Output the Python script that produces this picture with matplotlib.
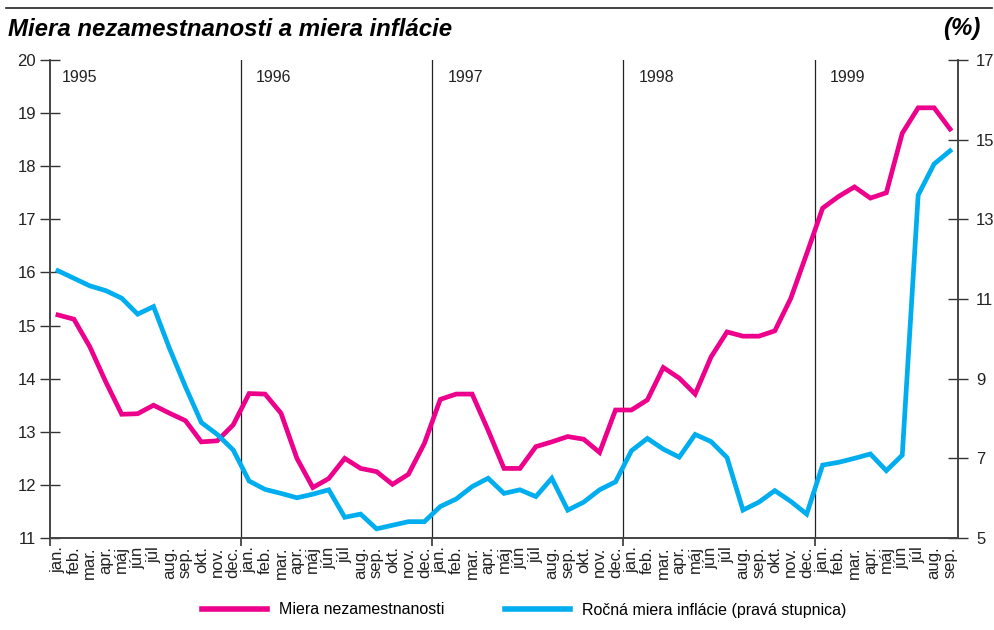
import matplotlib
matplotlib.use("Agg")
import matplotlib.pyplot as plt
from matplotlib.lines import Line2D

plt.rcParams['font.family'] = ['Liberation Sans', 'DejaVu Sans']

months = ["jan.", "feb.", "mar.", "apr.", "máj", "jún", "júl", "aug.", "sep.", "okt.", "nov.", "dec."]
years = ["1995", "1996", "1997", "1998", "1999"]
month_labels = months * 4 + months[:9]

unemployment = [15.20, 15.12, 14.60, 13.94, 13.33, 13.34, 13.50, 13.35, 13.21, 12.81, 12.83, 13.13,
                13.72, 13.71, 13.35, 12.50, 11.95, 12.12, 12.50, 12.31, 12.25, 12.01, 12.20, 12.78,
                13.61, 13.71, 13.71, 13.03, 12.31, 12.31, 12.72, 12.81, 12.91, 12.86, 12.61, 13.41,
                13.41, 13.60, 14.21, 14.01, 13.71, 14.41, 14.88, 14.80, 14.80, 14.90, 15.51, 16.35,
                17.21, 17.43, 17.61, 17.40, 17.50, 18.62, 19.10, 19.10, 18.70]
inflation = [11.71, 11.52, 11.33, 11.21, 11.02, 10.62, 10.81, 9.76, 8.80, 7.90, 7.60, 7.21,
             6.43, 6.22, 6.12, 6.01, 6.10, 6.21, 5.52, 5.60, 5.23, 5.32, 5.41, 5.41,
             5.79, 5.98, 6.29, 6.50, 6.12, 6.21, 6.04, 6.50, 5.70, 5.90, 6.21, 6.41,
             7.19, 7.50, 7.23, 7.03, 7.60, 7.42, 7.02, 5.70, 5.90, 6.19, 5.92, 5.60,
             6.83, 6.90, 7.00, 7.11, 6.69, 7.08, 13.61, 14.39, 14.72]

left_ticks = list(range(11, 21))
right_ticks = [5, 7, 9, 11, 13, 15, 17]

PINK = "#EC008C"
BLUE = "#00AEEF"
DARK = "#222222"

fig = plt.figure(figsize=(9.94, 6.30), dpi=100)
ax = fig.add_axes([50/994, 92/630, 908/994, 478/630])
ax2 = ax.twinx()

x = list(range(len(unemployment)))
ax.plot(x, unemployment, color=PINK, lw=3.4, solid_joinstyle='miter', zorder=3)
ax2.plot(x, inflation, color=BLUE, lw=3.4, solid_joinstyle='miter', zorder=3)

ax.set_xlim(-0.5, len(x) - 0.5)
ax.set_ylim(11, 20)
ax2.set_ylim(5, 17)
ax.set_yticks(left_ticks)
ax2.set_yticks(right_ticks)

# year separator lines and labels
for k, yr in enumerate(years):
    b = -0.5 + 12 * k
    if k > 0:
        ax.axvline(b, color=DARK, lw=0.9, zorder=1)
    off = 0.75 if k == 0 else 0.94
    ax.text(b + off, 19.67, yr, fontsize=11.5, ha='left', va='center', color=DARK)

ax.set_xticks(x)
ax.set_xticklabels(month_labels, rotation=90, fontsize=12, va='top', ha='center')
ax.tick_params(axis='x', length=0, pad=6, colors=DARK)
ax.set_xticks([-0.5 + 12 * k for k in range(5)], minor=True)
ax.tick_params(axis='x', which='minor', length=6, width=1.2, direction='out', color="#333333")

ax.tick_params(axis='y', direction='inout', length=14, width=1.0, labelsize=12, pad=3,
               color="#333333", labelcolor=DARK)
ax2.tick_params(axis='y', direction='inout', length=14, width=1.0, labelsize=12, pad=6,
                color="#333333", labelcolor=DARK)

for a in (ax, ax2):
    a.spines['top'].set_visible(False)
    for s in ('left', 'right', 'bottom'):
        a.spines[s].set_color("#444444")
        a.spines[s].set_linewidth(1.2)

# title and top rule
fig.add_artist(Line2D([6/994, 992/994], [622/630, 622/630], color=DARK, lw=1.2))
fig.text(8/994, 601/630, "Miera nezamestnanosti a miera inflácie", fontsize=17.3,
         fontweight='bold', fontstyle='italic', ha='left', va='center')
fig.text(980/994, 601/630, "(%)", fontsize=17.3, fontweight='bold', fontstyle='italic',
         ha='right', va='center')

handles = [Line2D([], [], color=PINK, lw=4), Line2D([], [], color=BLUE, lw=4)]
fig.legend(handles, ["Miera nezamestnanosti", "Ročná miera inflácie (pravá stupnica)"],
           loc='center', bbox_to_anchor=(0.527, 20/630), ncol=2, frameon=False,
           fontsize=11.5, handlelength=4.07, columnspacing=3.8, handletextpad=0.75)

fig.savefig("out.png", dpi=100)
